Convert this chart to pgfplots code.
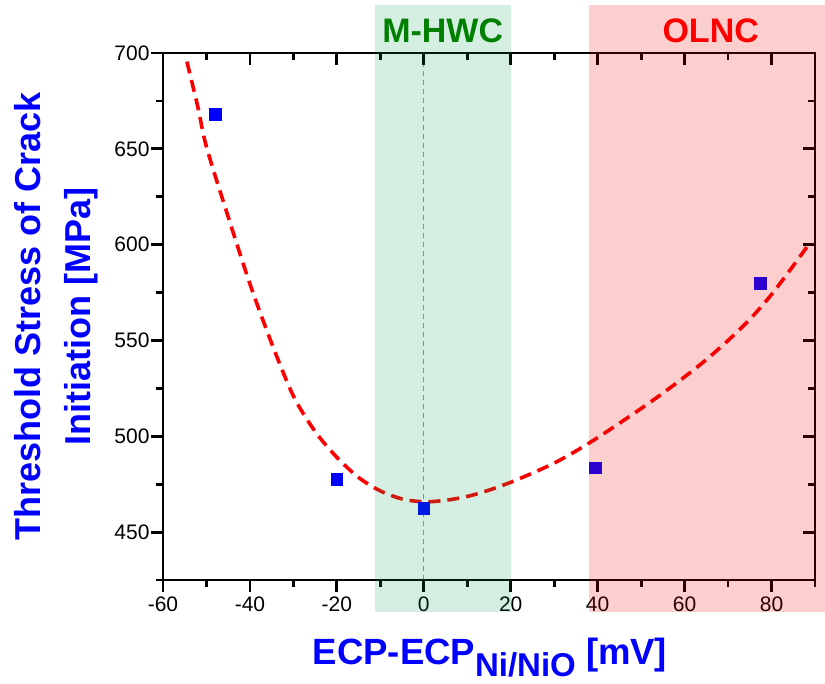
\documentclass[border=0pt]{standalone}
\usepackage{fontspec}
\setmainfont{Liberation Sans}
\usepackage{pgfplots}
\pgfplotsset{compat=1.18}
\usetikzlibrary{calc}

\definecolor{ptblue}{RGB}{0,0,255}
\definecolor{fitred}{RGB}{250,0,0}
\definecolor{hwcfill}{RGB}{0,160,80}
\definecolor{hwctext}{RGB}{0,128,0}
\definecolor{olncfill}{RGB}{239,0,0}
\definecolor{zeroline}{RGB}{165,165,60}

\begin{document}
\begin{tikzpicture}
\begin{axis}[name=ax,
  width=652pt, height=527pt, scale only axis,
  xmin=-60, xmax=90, ymin=425, ymax=700,
  xtick={-60,-40,...,80}, ytick={450,500,...,700},
  axis line style={draw=none},
  major tick length=0pt, minor tick length=0pt,
  clip=false,
  tick label style={font=\fontsize{21}{21}\selectfont},
  xticklabel style={yshift=-13pt},
  yticklabel style={xshift=-10pt},
  /pgf/number format/assume math mode=true,
  xlabel={ECP-ECP\raisebox{-12pt}{\fontsize{33}{33}\selectfont Ni/NiO} [mV]},
  xlabel style={font=\bfseries\fontsize{36.5}{36.5}\selectfont, text=ptblue,
    at={(axis description cs:0.5015,-0.161)}, anchor=base},
  ylabel={Threshold Stress of Crack\\Initiation [MPa]},
  ylabel style={font=\bfseries\fontsize{36}{49.5}\selectfont, text=ptblue,
    align=center, at={(axis description cs:-0.164,0.5)}, anchor=center},
]
% zero line
\addplot[zeroline, line width=1.3pt, dash pattern=on 5pt off 4pt, forget plot]
  coordinates {(0,425) (0,700)};

% measured points
\addplot[only marks, mark=square*, mark size=5.75pt, color=ptblue]
  coordinates {(-48,668) (-20,477.5) (0,462.5) (39.4,483.6) (77.4,580)};

% fitted curve
\addplot[fitred, line width=3.6pt, dash pattern=on 12pt off 7pt, smooth]
  coordinates {
  (-54.5,695.5) (-52,672) (-50,651) (-45,614.5) (-40,579.5) (-35,548.5)
  (-30,521) (-25,502.5) (-20,489) (-15,478.5) (-10,471.5) (-5,467.3)
  (0,465.8) (5,466.6) (10,468.6) (15,471.9) (20,476) (25,480.8) (30,486)
  (35,492.3) (40,499.3) (45,506.8) (50,514.5) (55,522.5) (60,531)
  (65,540) (70,550) (75,561) (80,574) (85,589) (89,601.5)
  };
\end{axis}

% frame and ticks (x: 15 steps of 10 mV, y: 11 steps of 25 MPa)
\draw[line width=2.8pt, black] (ax.south west) rectangle (ax.north east);
\foreach \i in {0,...,15} {
  \pgfmathsetmacro{\f}{\i/15}
  \pgfmathsetmacro{\len}{mod(\i,2)==0 ? 12 : 7}
  \draw[line width=2.8pt] ($(ax.south west)!\f!(ax.south east)$) -- ++(0pt,-\len pt);
  \draw[line width=2.8pt] ($(ax.north west)!\f!(ax.north east)$) -- ++(0pt,-\len pt);
}
\foreach \i in {0,...,11} {
  \pgfmathsetmacro{\f}{\i/11}
  \pgfmathsetmacro{\len}{mod(\i,2)==1 ? 12 : 7}
  \draw[line width=2.8pt] ($(ax.south west)!\f!(ax.north west)$) -- ++(-\len pt,0pt);
  \draw[line width=2.8pt] ($(ax.south east)!\f!(ax.north east)$) -- ++(-\len pt,0pt);
}

% regime bands, drawn over everything as in the original
\begin{axis}[name=bands,
  width=652pt, height=527pt, scale only axis,
  xmin=-60, xmax=90, ymin=425, ymax=700,
  hide axis, clip=false]
\addplot[draw=none, fill=hwcfill, fill opacity=0.17, forget plot]
  coordinates {(-11.3,408.3) (20,408.3) (20,725) (-11.3,725)} -- cycle;
\addplot[draw=none, fill=olncfill, fill opacity=0.19, forget plot]
  coordinates {(38.1,408.3) (92.7,408.3) (92.7,725) (38.1,725)} -- cycle;
\node[font=\bfseries\fontsize{34}{34}\selectfont, text=hwctext, anchor=base]
  at (axis cs:4.35,705.7) {M-HWC};
\node[font=\bfseries\fontsize{34}{34}\selectfont, text=red, anchor=base]
  at (axis cs:66,705.7) {OLNC};
\end{axis}

\pgfresetboundingbox
\path[use as bounding box] ($(ax.south west)+(-163pt,-103pt)$)
  rectangle ($(ax.north east)+(10pt,53pt)$);
\end{tikzpicture}
\end{document}
